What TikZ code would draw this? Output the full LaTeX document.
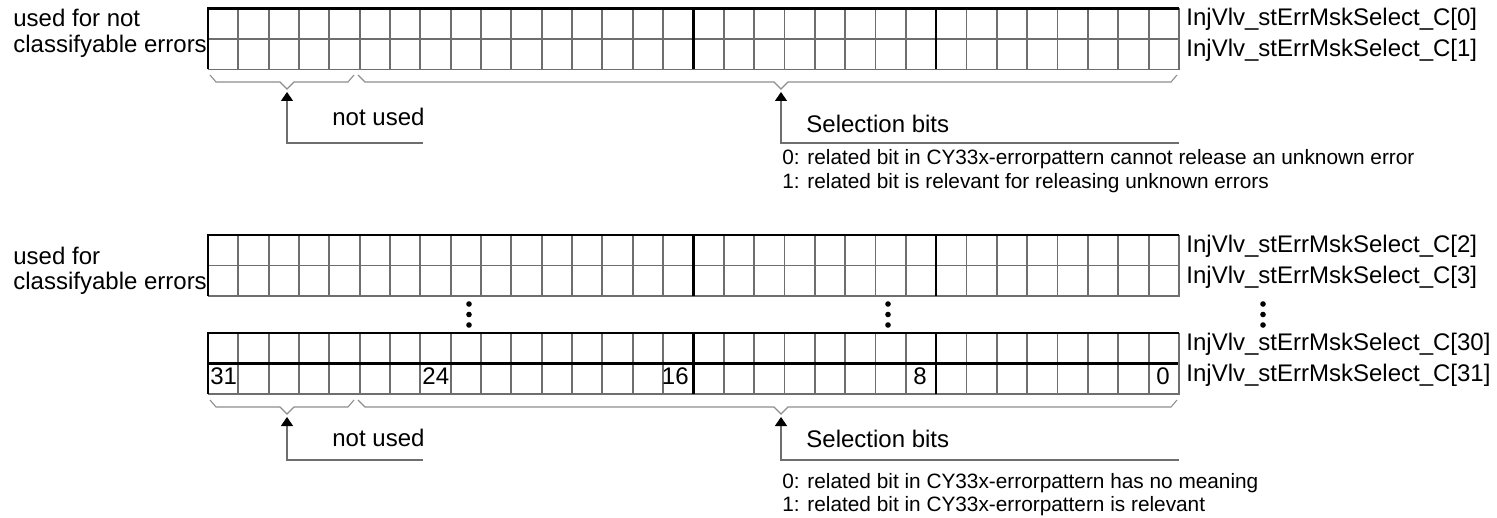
\documentclass[tikz,border=0pt]{standalone}
\usepackage{fontspec}
\setmainfont{Liberation Sans}
\usetikzlibrary{arrows.meta,positioning,calc}
\definecolor{gridGray}{HTML}{6E6E6E}
\definecolor{braceGray}{HTML}{8E8E8E}

\begin{document}
\begin{tikzpicture}[
    x=0.5pt, y=-0.5pt,
    every node/.style={font=\fontsize{12}{14}\selectfont, inner sep=0pt},
    cell/.style={draw=gridGray, line width=0.95pt},
    border/.style={draw=black, line width=1.3pt},
    brace/.style={draw=braceGray, line width=0.55pt},
    pointer/.style={draw=gridGray, line width=0.65pt, -{Triangle[length=4.5pt, width=6pt, color=black]}},
    regname/.style={anchor=base west},
    sidenote/.style={anchor=base west},
    meaning/.style={anchor=base west, font=\fontsize{10.4}{12}\selectfont},
    dotmark/.style={fill=black, circle, minimum size=2.8pt}
  ]
    \useasboundingbox (0,0) rectangle (1497,518);

    % register rows: top edge / style of middle rule / register indices
    \foreach \gtop/\gmid/\ra/\rb in {8.5/cell/0/1, 235/cell/2/3, 333/border/30/31} {
      \foreach \c in {1,...,31}
        \draw[cell] ({208+\c*30.34}, \gtop) -- ++(0,61);
      \draw[\gmid] (208, \gtop+30.5) -- (1179, \gtop+30.5);
      \draw[cell] (1179, \gtop) -- (1179, \gtop+61) -- (208, \gtop+61);
      \foreach \c in {16,24}
        \draw[border] ({208+\c*30.34}, \gtop) -- ++(0,61);
      \draw[border] (208, \gtop+61) -- (208, \gtop) -- (1179, \gtop);
      \node[regname] (reg\ra) at (1186, \gtop+17.5) {InjVlv\_stErrMskSelect\_C[\ra]};
      \node[regname] (reg\rb) at (1186, \gtop+48.5) {InjVlv\_stErrMskSelect\_C[\rb]};
    }

    \node[sidenote] (usedA) at (13,27) {used for not};
    \node[sidenote] (classA) at (13,53) {classifyable errors};
    \node[sidenote] (usedB) at (13,264) {used for};
    \node[sidenote] (classB) at (13,289) {classifyable errors};

    % vertical ellipses between C[3] and C[30]
    \foreach \dx in {469, 888, 1263}
      \foreach \dy in {304, 314.5, 325}
        \node[dotmark] (dot\dx-\dy) at (\dx,\dy) {};

    % bit numbers
    \node[anchor=base west] (bit31) at (210,384) {31};
    \node[anchor=base west] (bit24) at (422,384) {24};
    \node[anchor=base east] (bit16) at (689,384) {16};
    \node[anchor=base east] (bit8) at (927,384) {8};
    \node[anchor=base east] (bit0) at (1170,384) {0};

    % braces and pointers
    \foreach \by/\ly/\nm in {82/143/A, 407/460/B} {
      \draw[brace] (210,\by-7) -- (216,\by) -- (280,\by) -- (287,\by+7) -- (294,\by) -- (348,\by) -- (354,\by-7);
      \draw[brace] (358,\by-7) -- (365,\by) -- (774,\by) -- (781,\by+7) -- (788,\by) -- (1171,\by) -- (1177,\by-7);
      \coordinate (unusedTip\nm) at (287,\by+10);
      \coordinate (unusedBend\nm) at (287,\ly);
      \coordinate (unusedEnd\nm) at (423,\ly);
      \coordinate (selTip\nm) at (781,\by+10);
      \coordinate (selBend\nm) at (781,\ly);
      \coordinate (selEnd\nm) at (1179,\ly);
      \draw[pointer] (unusedEnd\nm) -- (unusedBend\nm) -- (unusedTip\nm);
      \draw[pointer] (selEnd\nm) -- (selBend\nm) -- (selTip\nm);
    }

    \node[sidenote] (unusedA) at (332,126) {not used};
    \node[sidenote] (selA) at (806,133) {Selection bits};
    \node[meaning] (selA0) at (782,165) {0: related bit in CY33x-errorpattern cannot release an unknown error};
    \node[meaning] (selA1) at (782,189) {1: related bit is relevant for releasing unknown errors};

    \node[sidenote] (unusedB) at (332,446) {not used};
    \node[sidenote] (selB) at (806,447) {Selection bits};
    \node[meaning] (selB0) at (782,488) {0: related bit in CY33x-errorpattern has no meaning};
    \node[meaning] (selB1) at (782,511) {1: related bit in CY33x-errorpattern is relevant};
  \end{tikzpicture}
\end{document}
